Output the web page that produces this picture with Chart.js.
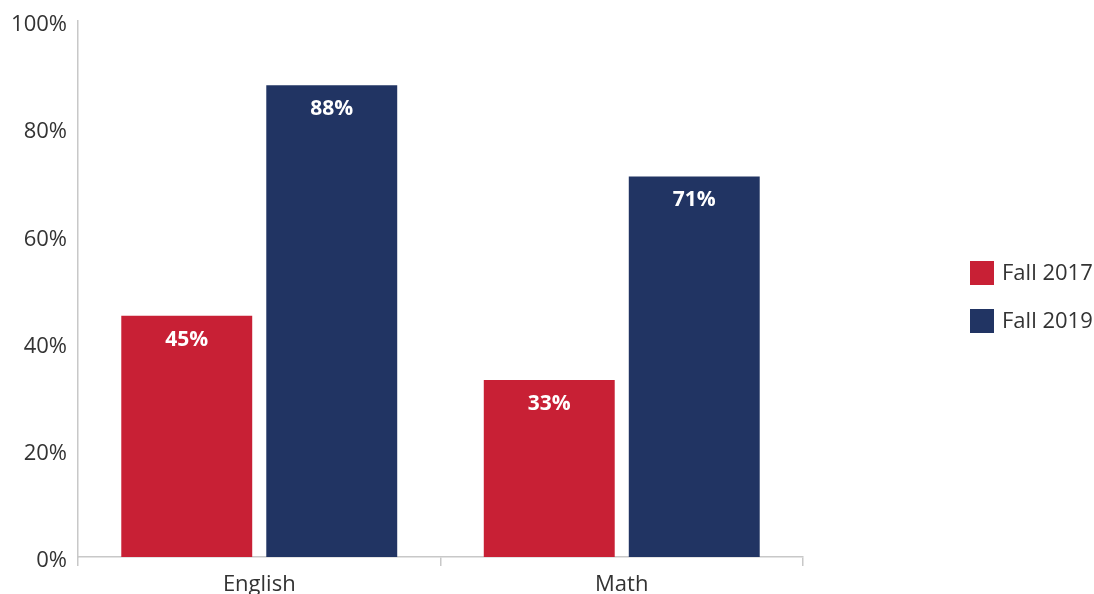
<!DOCTYPE html>
<html>
<head>
<meta charset="utf-8">
<script src="https://cdn.jsdelivr.net/npm/chart.js@4/dist/chart.umd.min.js"></script>
<style>
  html, body { margin: 0; padding: 0; background: #fff; }
  #wrap { width: 1094px; height: 594px; position: relative; }
</style>
</head>
<body>
<div id="wrap"><canvas id="scoreChart"></canvas></div>
<script>
// Data
const categories = ['English', 'Math'];
const seriesNames = ['Fall 2017', 'Fall 2019'];
const fall2017 = [45, 33];
const fall2019 = [88, 71];
const yTicks = [0, 20, 40, 60, 80, 100];

const colors = ['#c82035', '#213463'];
const fontFamily = '"Open Sans", "Noto Sans", sans-serif';

// labels inside top of each bar + legend on the right
const barLabels = {
    id: 'barLabels',
    afterDatasetsDraw(chart) {
        const ctx = chart.ctx;
        ctx.save();
        ctx.fillStyle = '#ffffff';
        ctx.font = 'bold 21px ' + fontFamily;
        ctx.textAlign = 'center';
        ctx.textBaseline = 'middle';
        chart.data.datasets.forEach(function (ds, i) {
            chart.getDatasetMeta(i).data.forEach(function (bar, j) {
                ctx.fillText(ds.data[j] + '%', bar.x, bar.y + 24);
            });
        });

        // legend
        ctx.font = '22px ' + fontFamily;
        ctx.textAlign = 'left';
        seriesNames.forEach(function (name, i) {
            const y = 261 + i * 48;
            ctx.fillStyle = colors[i];
            ctx.fillRect(970, y, 24, 24);
            ctx.fillStyle = '#333';
            ctx.fillText(name, 1002, y + 13);
        });
        ctx.restore();
    }
};

const ctx = document.getElementById('scoreChart').getContext('2d');

new Chart(ctx, {
    type: 'bar',
    data: {
        labels: categories,
        datasets: [
            { label: seriesNames[0], data: fall2017, backgroundColor: colors[0] },
            { label: seriesNames[1], data: fall2019, backgroundColor: colors[1] }
        ]
    },
    options: {
        responsive: true,
        maintainAspectRatio: false,
        animation: false,
        categoryPercentage: 0.8,
        barPercentage: 0.903,
        layout: {
            padding: { top: 21, right: 291, left: 0, bottom: 0 }
        },
        scales: {
            x: {
                grid: {
                    offset: true,
                    drawOnChartArea: false,
                    tickLength: 9,
                    color: '#c8c8c8',
                    lineWidth: 1.5
                },
                border: { color: '#c8c8c8', width: 1.5 },
                ticks: {
                    color: '#333',
                    padding: 6,
                    font: { family: fontFamily, size: 22 }
                },
                afterFit(scale) { scale.height = 37; }
            },
            y: {
                min: 0,
                max: 100,
                afterBuildTicks(scale) {
                    scale.ticks = yTicks.map(function (v) { return { value: v }; });
                },
                grid: { display: false },
                border: { color: '#c8c8c8', width: 1.5 },
                ticks: {
                    color: '#333',
                    padding: 3,
                    font: { family: fontFamily, size: 22, lineHeight: '8px' },
                    // empty first line nudges the label a few px down, as in the original
                    callback: function (v) { return ['', v + '%']; }
                },
                afterFit(scale) { scale.width = 78; }
            }
        },
        plugins: {
            legend: { display: false },
            tooltip: { enabled: false }
        }
    },
    plugins: [barLabels]
});
</script>
</body>
</html>
